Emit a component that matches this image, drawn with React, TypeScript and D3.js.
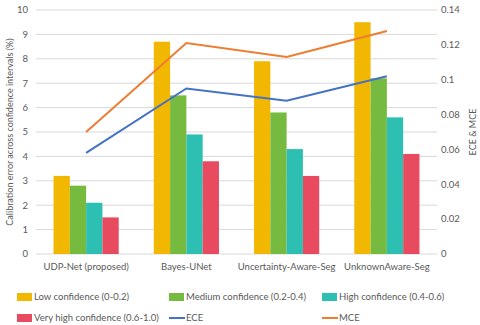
import React, { useEffect, useRef } from "react";
import * as d3 from "d3";

const models = ["UDP-Net (proposed)", "Bayes-UNet", "Uncertainty-Aware-Seg", "UnknownAware-Seg"];
const lowConf = [3.2, 8.7, 7.9, 9.5];
const medConf = [2.8, 6.5, 5.8, 7.2];
const highConf = [2.1, 4.9, 4.3, 5.6];
const veryHighConf = [1.5, 3.8, 3.2, 4.1];
const ece = [0.058, 0.095, 0.088, 0.102];
const mce = [0.07, 0.121, 0.113, 0.128];

const barSeries = [
  { name: "Low confidence (0-0.2)", values: lowConf, color: "#F2B700" },
  { name: "Medium confidence (0.2-0.4)", values: medConf, color: "#76BB40" },
  { name: "High confidence (0.4-0.6)", values: highConf, color: "#2EBFB3" },
  { name: "Very high confidence (0.6-1.0)", values: veryHighConf, color: "#E84A5F" },
];
const lineSeries = [
  { name: "ECE", values: ece, color: "#4472C4" },
  { name: "MCE", values: mce, color: "#ED7D31" },
];

const FONT = "Lato, 'Open Sans', sans-serif";
const TEXT = "#595959";

export default function App() {
  const ref = useRef<SVGSVGElement>(null);

  useEffect(() => {
    const svg = d3.select(ref.current);
    svg.selectAll("*").remove();

    const left = 36, right = 437, top = 10, bottom = 254;

    const x0 = d3.scaleBand().domain(models).range([left, right]).paddingInner(0.35).paddingOuter(0.175);
    const x1 = d3.scaleBand().domain(barSeries.map((s) => s.name)).range([0, x0.bandwidth()]);
    const y = d3.scaleLinear().domain([0, 10]).range([bottom, top]);
    const y2 = d3.scaleLinear().domain([0, 0.14]).range([bottom, top]);

    // grid
    svg.append("g")
      .selectAll("line")
      .data(y.ticks(10))
      .join("line")
      .attr("x1", left).attr("x2", right)
      .attr("y1", (d) => y(d)).attr("y2", (d) => y(d))
      .attr("stroke", "#D9D9D9").attr("stroke-width", 1);

    // left ticks
    svg.append("g")
      .selectAll("text")
      .data(y.ticks(10))
      .join("text")
      .attr("x", 28).attr("y", (d) => y(d))
      .attr("dy", "0.35em").attr("text-anchor", "end")
      .attr("font-family", FONT).attr("font-size", 9.5).attr("fill", TEXT)
      .text((d) => d);

    // right ticks
    svg.append("g")
      .selectAll("text")
      .data(d3.range(0, 8).map((i) => i * 0.02))
      .join("text")
      .attr("x", 441).attr("y", (d) => y2(d))
      .attr("dy", "0.35em")
      .attr("font-family", FONT).attr("font-size", 9.5).attr("fill", TEXT)
      .text((d) => (d === 0 ? "0" : d3.format(".2~f")(d)));

    // bars
    barSeries.forEach((s) => {
      svg.append("g")
        .selectAll("rect")
        .data(s.values)
        .join("rect")
        .attr("x", (_, i) => (x0(models[i]) as number) + (x1(s.name) as number))
        .attr("y", (d) => y(d))
        .attr("width", x1.bandwidth())
        .attr("height", (d) => bottom - y(d))
        .attr("fill", s.color);
    });

    // lines
    lineSeries.forEach((s) => {
      const line = d3.line<number>()
        .x((_, i) => (x0(models[i]) as number) + x0.bandwidth() / 2)
        .y((d) => y2(d));
      svg.append("path")
        .datum(s.values)
        .attr("d", line)
        .attr("fill", "none")
        .attr("stroke", s.color)
        .attr("stroke-width", 2);
    });

    // category labels
    svg.append("g")
      .selectAll("text")
      .data(models)
      .join("text")
      .attr("x", (d) => (x0(d) as number) + x0.bandwidth() / 2)
      .attr("y", 267).attr("dy", "0.35em").attr("text-anchor", "middle")
      .attr("font-family", FONT).attr("font-size", 9.5).attr("fill", TEXT)
      .text((d) => d);

    // axis titles
    svg.append("text")
      .attr("transform", `translate(10,${(top + bottom) / 2}) rotate(-90)`)
      .attr("text-anchor", "middle").attr("dy", "0.35em")
      .attr("font-family", FONT).attr("font-size", 9).attr("fill", TEXT)
      .text("Calibration error across confidence intervals (%)");
    svg.append("text")
      .attr("transform", `translate(473,${(top + bottom) / 2}) rotate(-90)`)
      .attr("text-anchor", "middle").attr("dy", "0.35em")
      .attr("font-family", FONT).attr("font-size", 9).attr("fill", TEXT)
      .text("ECE  & MCE");

    // legend
    const cols = [17, 169, 322];
    const items = [
      ...barSeries.map((s) => ({ name: s.name, color: s.color, kind: "bar" })),
      ...lineSeries.map((s) => ({ name: s.name, color: s.color, kind: "line" })),
    ];
    const leg = svg.append("g")
      .selectAll("g")
      .data(items)
      .join("g")
      .attr("transform", (_, i) => `translate(${cols[i % 3]},${i < 3 ? 297 : 318})`);
    leg.each(function (d) {
      const g = d3.select(this);
      if (d.kind === "bar") {
        g.append("rect").attr("x", 0).attr("y", -4).attr("width", 15).attr("height", 8).attr("fill", d.color);
      } else {
        g.append("line").attr("x1", 0).attr("x2", 16).attr("y1", 0).attr("y2", 0)
          .attr("stroke", d.color).attr("stroke-width", 2);
      }
      g.append("text")
        .attr("x", 17).attr("y", 0).attr("dy", "0.35em")
        .attr("font-family", FONT).attr("font-size", 9.5).attr("fill", TEXT)
        .text(d.name);
    });
  }, []);

  return (
    <svg
      ref={ref}
      width={480}
      height={325}
      style={{ position: "absolute", left: 0, top: 0, background: "#fff" }}
    />
  );
}
